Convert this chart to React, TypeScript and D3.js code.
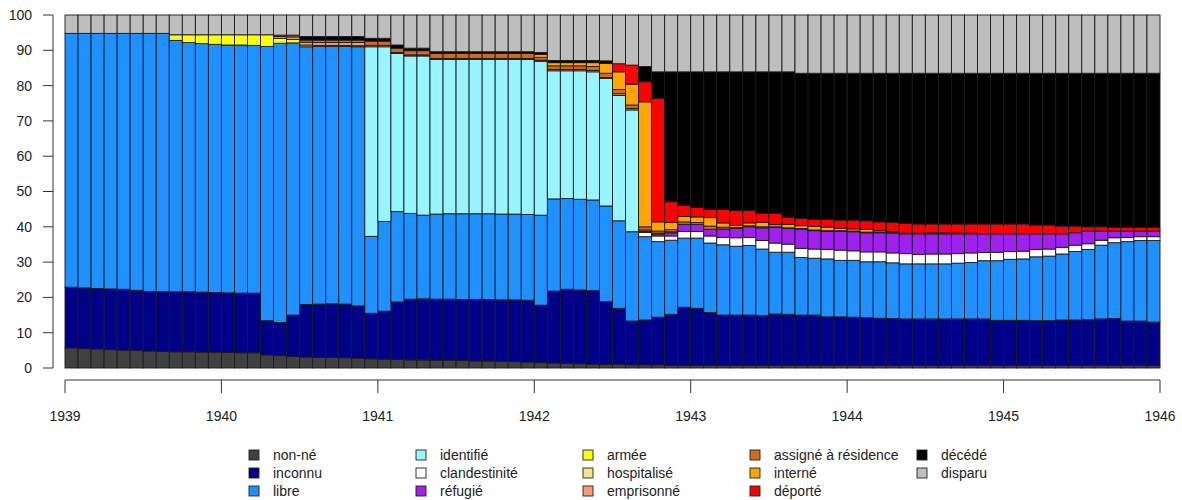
import * as React from 'react';
import * as d3 from 'd3';

// year tick labels (bars are monthly, Jan 1939 .. Dec 1945)
const years = [1939, 1940, 1941, 1942, 1943, 1944, 1945, 1946];
const yTicks = [0, 10, 20, 30, 40, 50, 60, 70, 80, 90, 100];

// one value per month, one line per year
const nonNe = [
  5.7, 5.5, 5.4, 5.2, 5.1, 5.0, 4.8, 4.7, 4.6, 4.6, 4.5, 4.5,
  4.4, 4.3, 4.3, 3.7, 3.5, 3.3, 3.1, 3.0, 3.0, 2.9, 2.8, 2.6,
  2.5, 2.4, 2.3, 2.3, 2.2, 2.2, 2.1, 2.0, 2.0, 1.9, 1.8, 1.7,
  1.5, 1.4, 1.3, 1.2, 1.1, 1.0, 1.0, 0.9, 0.9, 0.9, 0.8, 0.8,
  0.8, 0.8, 0.8, 0.8, 0.8, 0.8, 0.8, 0.8, 0.8, 0.8, 0.8, 0.8,
  0.7, 0.7, 0.7, 0.7, 0.7, 0.7, 0.7, 0.7, 0.7, 0.7, 0.7, 0.7,
  0.7, 0.7, 0.7, 0.7, 0.7, 0.7, 0.7, 0.7, 0.7, 0.7, 0.7, 0.7,
];
const inconnu = [
  17.2, 17.2, 17.1, 17.2, 17.2, 17.0, 16.9, 16.9, 17.0, 17.0, 17.0, 16.9,
  16.9, 16.9, 16.9, 9.7, 9.4, 11.7, 14.9, 15.1, 15.2, 15.2, 14.8, 12.9,
  13.6, 16.3, 17.2, 17.3, 17.3, 17.3, 17.3, 17.4, 17.4, 17.4, 17.5, 17.5,
  16.3, 20.4, 21.0, 20.9, 20.8, 17.8, 15.9, 12.4, 12.7, 13.5, 14.4, 16.4,
  16.1, 14.9, 14.2, 14.2, 14.2, 14.0, 14.5, 14.4, 14.2, 14.2, 13.7, 13.7,
  13.7, 13.6, 13.4, 13.3, 13.2, 13.2, 13.2, 13.2, 13.2, 13.2, 13.2, 12.8,
  12.8, 12.8, 12.7, 12.7, 12.9, 12.9, 13.0, 13.2, 13.3, 12.6, 12.6, 12.3,
];
const libre = [
  71.9, 72.1, 72.3, 72.4, 72.5, 72.8, 73.1, 73.2, 71.2, 70.6, 70.4, 70.3,
  70.2, 70.3, 70.2, 77.7, 79.1, 77.1, 73.0, 73.0, 72.9, 73.0, 73.4, 21.8,
  25.4, 25.6, 24.3, 23.7, 24.1, 24.2, 24.3, 24.3, 24.3, 24.3, 24.3, 24.3,
  25.5, 26.1, 25.7, 25.7, 25.7, 27.1, 24.8, 25.3, 23.6, 21.4, 21.0, 19.6,
  19.9, 19.7, 19.9, 19.5, 19.7, 18.9, 17.5, 17.6, 16.3, 16.1, 16.4, 16.0,
  16.1, 15.8, 16.0, 15.8, 15.6, 15.6, 15.6, 15.6, 15.8, 16.0, 16.5, 16.9,
  17.3, 17.4, 18.1, 18.3, 18.7, 19.4, 19.9, 20.9, 21.5, 22.5, 22.8, 23.1,
];
const identifie = [
  0, 0, 0, 0, 0, 0, 0, 0, 0, 0, 0, 0,
  0, 0, 0, 0, 0, 0, 0, 0, 0, 0, 0, 53.7,
  49.5, 44.8, 44.6, 45.1, 43.8, 43.7, 43.7, 43.7, 43.7, 43.8, 43.8, 43.9,
  43.6, 36.3, 36.2, 36.4, 36.3, 36.1, 35.5, 34.5, 0, 0, 0, 0,
  0, 0, 0, 0, 0, 0, 0, 0, 0, 0, 0, 0,
  0, 0, 0, 0, 0, 0, 0, 0, 0, 0, 0, 0,
  0, 0, 0, 0, 0, 0, 0, 0, 0, 0, 0, 0,
];
const clandestinite = [
  0, 0, 0, 0, 0, 0, 0, 0, 0, 0, 0, 0,
  0, 0, 0, 0, 0, 0, 0, 0, 0, 0, 0, 0,
  0, 0, 0, 0, 0, 0, 0, 0, 0, 0, 0, 0,
  0, 0, 0, 0, 0, 0, 0, 0, 1.2, 1.6, 1.2, 1.9,
  1.9, 2.0, 2.1, 2.4, 2.3, 2.4, 2.6, 2.3, 2.6, 2.6, 2.7, 2.9,
  2.7, 2.8, 2.8, 2.8, 2.9, 2.7, 2.8, 2.8, 2.7, 2.7, 2.3, 2.4,
  2.2, 2.2, 2.1, 2.0, 1.9, 1.8, 1.6, 1.4, 1.4, 1.2, 1.1, 1.1,
];
const refugie = [
  0, 0, 0, 0, 0, 0, 0, 0, 0, 0, 0, 0,
  0, 0, 0, 0, 0, 0, 0, 0, 0, 0, 0, 0,
  0, 0, 0, 0, 0, 0, 0, 0, 0, 0, 0, 0,
  0, 0, 0, 0, 0, 0, 0, 0, 0.3, 0.5, 0.9, 2.0,
  2.0, 1.9, 2.4, 2.6, 3.0, 3.6, 4.4, 4.4, 5.4, 5.2, 5.1, 5.3,
  5.4, 5.4, 5.4, 5.6, 5.6, 5.8, 5.7, 5.7, 5.6, 5.4, 5.3, 5.2,
  5.0, 4.9, 4.4, 4.3, 3.8, 3.5, 3.6, 2.6, 1.9, 1.8, 1.6, 1.6,
];
const armee = [
  0, 0, 0, 0, 0, 0, 0, 0, 1.6, 2.2, 2.5, 2.7,
  2.9, 2.9, 3.0, 3.3, 1.4, 1.0, 0.5, 0.3, 0.3, 0.3, 0.3, 0,
  0, 0, 0, 0, 0, 0, 0, 0, 0, 0, 0, 0,
  0, 0, 0, 0, 0, 0, 0, 0, 0, 0, 0, 0,
  0, 0, 0, 0, 0, 0, 0, 0, 0, 0, 0, 0,
  0, 0, 0, 0, 0, 0, 0, 0, 0, 0, 0, 0,
  0, 0, 0, 0, 0, 0, 0, 0, 0, 0, 0, 0,
];
const hospitalise = [
  0, 0, 0, 0, 0, 0, 0, 0, 0, 0, 0, 0,
  0, 0, 0, 0, 0, 0, 0, 0, 0, 0, 0, 0,
  0, 0, 0, 0, 0, 0, 0, 0, 0, 0, 0, 0,
  0, 0, 0, 0, 0, 0, 0, 0, 0, 0, 0, 0,
  0, 0, 0, 0, 0, 0, 0, 0, 0, 0, 0, 0,
  0, 0, 0, 0, 0, 0, 0, 0, 0, 0, 0, 0,
  0, 0, 0, 0, 0, 0, 0, 0, 0, 0, 0, 0,
];
const emprisonne = [
  0, 0, 0, 0, 0, 0, 0, 0, 0, 0, 0, 0,
  0, 0, 0, 0, 0.5, 0.7, 0.8, 0.8, 0.8, 0.8, 0.9, 0.4,
  0.4, 0.3, 0.3, 0.3, 0.3, 0.3, 0.3, 0.3, 0.3, 0.3, 0.3, 0.3,
  0.3, 0.4, 0.4, 0.4, 0.4, 0.3, 0.5, 0.4, 0.4, 0.3, 0.3, 0,
  0, 0, 0, 0, 0, 0, 0, 0, 0, 0, 0, 0,
  0, 0, 0, 0, 0, 0, 0, 0, 0, 0, 0, 0,
  0, 0, 0, 0, 0, 0, 0, 0, 0, 0, 0, 0,
];
const assigne = [
  0, 0, 0, 0, 0, 0, 0, 0, 0, 0, 0, 0,
  0, 0, 0, 0, 0.4, 0.5, 0.6, 0.7, 0.7, 0.7, 0.7, 1.2,
  1.2, 1.2, 1.2, 1.2, 1.4, 1.4, 1.4, 1.4, 1.4, 1.4, 1.4, 1.4,
  0.8, 1.0, 1.0, 1.0, 1.1, 1.2, 1.2, 1.0, 0.9, 0.6, 0.6, 0.7,
  0.5, 0.9, 0.5, 0.3, 0.3, 0.3, 0.2, 0.2, 0.2, 0.2, 0.2, 0.2,
  0.2, 0.2, 0.2, 0.2, 0, 0, 0, 0, 0, 0, 0, 0,
  0, 0, 0, 0, 0, 0, 0, 0, 0, 0, 0, 0,
];
const interne = [
  0, 0, 0, 0, 0, 0, 0, 0, 0, 0, 0, 0,
  0, 0, 0, 0, 0, 0, 0, 0, 0, 0, 0, 0,
  0, 0, 0, 0, 0, 0, 0, 0, 0, 0, 0, 0,
  0.8, 0.9, 0.9, 0.9, 1.1, 2.8, 5.0, 5.9, 35.4, 2.6, 2.0, 1.5,
  1.6, 2.4, 1.2, 0.6, 0.8, 1.3, 0.6, 1.0, 0.8, 1.0, 1.0, 0.7,
  0.6, 0.8, 0.4, 0.3, 0.2, 0.2, 0.3, 0.3, 0.2, 0.2, 0.1, 0,
  0, 0, 0, 0, 0, 0, 0, 0, 0, 0, 0, 0,
];
const deporte = [
  0, 0, 0, 0, 0, 0, 0, 0, 0, 0, 0, 0,
  0, 0, 0, 0, 0, 0, 0, 0, 0, 0, 0, 0,
  0, 0, 0, 0, 0, 0, 0, 0, 0, 0, 0, 0,
  0, 0, 0, 0, 0, 0, 2.3, 5.4, 5.7, 35.0, 5.9, 3.2,
  2.7, 2.3, 3.8, 4.2, 3.5, 2.5, 3.2, 2.0, 2.1, 2.0, 2.2, 2.3,
  2.5, 2.4, 2.5, 2.5, 2.8, 2.6, 2.5, 2.5, 2.6, 2.6, 2.7, 2.8,
  2.8, 2.8, 2.5, 2.5, 2.2, 1.9, 1.2, 1.2, 1.0, 1.0, 1.0, 1.0,
];
const decede = [
  0, 0, 0, 0, 0, 0, 0, 0, 0, 0, 0, 0,
  0, 0, 0, 0, 0, 0, 1.0, 1.0, 1.0, 1.0, 1.0, 0.8,
  0.8, 0.9, 0.7, 0.7, 0.5, 0.5, 0.5, 0.5, 0.5, 0.5, 0.5, 0.5,
  0.6, 0.6, 0.6, 0.6, 0.6, 0.7, 0, 0, 4.3, 7.5, 36.8, 37.8,
  38.4, 39.0, 39.0, 39.3, 39.3, 40.1, 40.1, 41.2, 41.1, 41.4, 41.4, 41.6,
  41.6, 41.8, 42.1, 42.3, 42.5, 42.7, 42.7, 42.7, 42.7, 42.7, 42.7, 42.7,
  42.7, 42.7, 43.0, 43.0, 43.3, 43.3, 43.5, 43.5, 43.7, 43.7, 43.7, 43.7,
];
const disparu = [
  5.2, 5.2, 5.2, 5.2, 5.2, 5.2, 5.2, 5.2, 5.6, 5.6, 5.6, 5.6,
  5.6, 5.6, 5.6, 5.6, 5.7, 5.7, 6.1, 6.1, 6.1, 6.1, 6.1, 6.6,
  6.6, 8.5, 9.4, 9.4, 10.4, 10.4, 10.4, 10.4, 10.4, 10.4, 10.4, 10.4,
  10.6, 12.9, 12.9, 12.9, 12.9, 13.0, 13.8, 14.2, 14.6, 16.1, 16.1, 16.1,
  16.1, 16.1, 16.1, 16.1, 16.1, 16.1, 16.1, 16.1, 16.5, 16.5, 16.5, 16.5,
  16.5, 16.5, 16.5, 16.5, 16.5, 16.5, 16.5, 16.5, 16.5, 16.5, 16.5, 16.5,
  16.5, 16.5, 16.5, 16.5, 16.5, 16.5, 16.5, 16.5, 16.5, 16.5, 16.5, 16.5,
];

// stacking order = legend order (column by column)
const series = [
  { key: 'nonNe', label: 'non-né', color: '#404040', values: nonNe },
  { key: 'inconnu', label: 'inconnu', color: '#000088', values: inconnu },
  { key: 'libre', label: 'libre', color: '#1E90FF', values: libre },
  { key: 'identifie', label: 'identifié', color: '#98F5FF', values: identifie },
  { key: 'clandestinite', label: 'clandestinité', color: '#FFFFFF', values: clandestinite },
  { key: 'refugie', label: 'réfugié', color: '#A020F0', values: refugie },
  { key: 'armee', label: 'armée', color: '#FFFF00', values: armee },
  { key: 'hospitalise', label: 'hospitalisé', color: '#F0E68C', values: hospitalise },
  { key: 'emprisonne', label: 'emprisonné', color: '#FA9A7A', values: emprisonne },
  { key: 'assigne', label: 'assigné à résidence', color: '#D2691E', values: assigne },
  { key: 'interne', label: 'interné', color: '#FFA500', values: interne },
  { key: 'deporte', label: 'déporté', color: '#FF0000', values: deporte },
  { key: 'decede', label: 'décédé', color: '#000000', values: decede },
  { key: 'disparu', label: 'disparu', color: '#BEBEBE', values: disparu },
];

const font = '"Liberation Sans", Arial, Helvetica, sans-serif';

const App: React.FC = () => {
  const width = 1182;
  const height = 500;
  const left = 65;
  const right = 1160;
  const top = 15;
  const bottom = 368;

  const months = years.slice(0, -1).flatMap(yr => d3.range(12).map(m => `${yr}-${m + 1}`));
  const table = months.map((m, i) => {
    const row: Record<string, any> = { month: m };
    series.forEach(s => { row[s.key] = s.values[i]; });
    return row;
  });
  const stacked = d3.stack<any>().keys(series.map(s => s.key))(table);

  const x = d3.scaleBand<string>().domain(months).range([left, right]).padding(0);
  const xYear = d3.scaleLinear().domain([years[0], years[years.length - 1]]).range([left, right]);
  const y = d3.scaleLinear().domain([0, 100]).range([bottom, top]);

  const axisY = 380;
  const yAxisX = 53;

  return (
    <svg width={width} height={height} style={{ position: 'absolute', left: 0, top: 0, background: '#fff' }}
      fontFamily={font}>
      {/* bars */}
      {stacked.map((layer, li) => (
        <g key={series[li].key} fill={series[li].color} stroke="#1a1a1a" strokeWidth={0.9}>
          {layer.map(d => (d[1] - d[0] > 0 ? (
            <rect key={d.data.month}
              x={x(d.data.month)!}
              y={y(d[1])}
              width={x.bandwidth()}
              height={y(d[0]) - y(d[1])} />
          ) : null))}
        </g>
      ))}

      {/* y axis */}
      <g stroke="#333" strokeWidth={1}>
        <line x1={yAxisX} x2={yAxisX} y1={y(0)} y2={y(100)} />
        {yTicks.map(t => <line key={t} x1={yAxisX - 10} x2={yAxisX} y1={y(t)} y2={y(t)} />)}
      </g>
      <g fill="#222" fontSize={14} textAnchor="end">
        {yTicks.map(t => <text key={t} x={32} y={y(t)} dy="0.35em">{t}</text>)}
      </g>

      {/* x axis */}
      <g stroke="#333" strokeWidth={1}>
        <line x1={xYear(years[0])} x2={xYear(years[years.length - 1])} y1={axisY} y2={axisY} />
        {years.map(yr => <line key={yr} x1={xYear(yr)} x2={xYear(yr)} y1={axisY} y2={axisY + 13} />)}
      </g>
      <g fill="#222" fontSize={14} textAnchor="middle">
        {years.map(yr => <text key={yr} x={xYear(yr)} y={421}>{yr}</text>)}
      </g>

      {/* legend: 5 columns x 3 rows */}
      <g fontSize={14} fill="#222">
        {series.map((s, k) => {
          const col = Math.floor(k / 3);
          const row = k % 3;
          const tx = 273 + col * 167;
          const ty = 455 + row * 18;
          return (
            <g key={s.key}>
              <rect x={tx - 24} y={ty - 5} width={10} height={10} fill={s.color} stroke="#222" strokeWidth={0.9} />
              <text x={tx} y={ty} dy="0.35em">{s.label}</text>
            </g>
          );
        })}
      </g>
    </svg>
  );
};

export default App;
